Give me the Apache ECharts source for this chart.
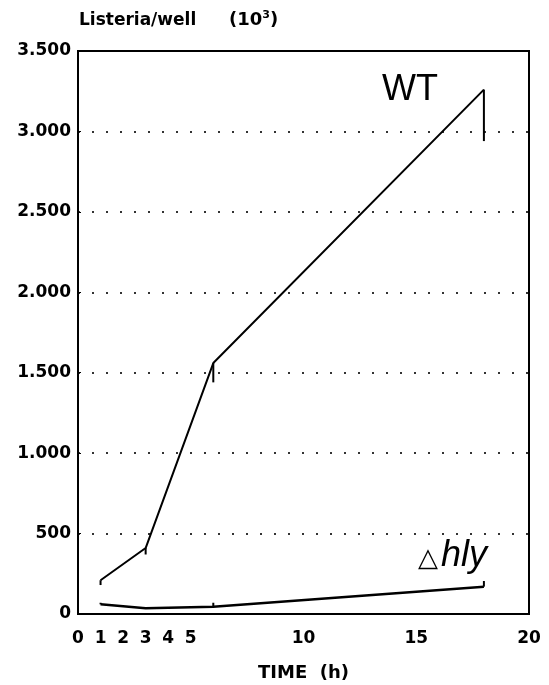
<!DOCTYPE html>
<html>
<head>
<meta charset="utf-8">
<script src="https://cdn.jsdelivr.net/npm/echarts@6/dist/echarts.min.js"></script>
<style>
  html, body { margin: 0; padding: 0; background: #fff; }
  #chart { width: 549px; height: 685px; }
</style>
</head>
<body>
<div id="chart"></div>
<script>
const hours = [1, 3, 6, 18];
const wtValues = [210, 410, 1560, 3260];
const wtErrors = [-30, -40, -120, -320];
const hlyValues = [60, 35, 45, 170];
const hlyErrors = [10, 0, 25, 35];
const xTickLabels = [0, 1, 2, 3, 4, 5, 10, 15, 20];

const labelFont = '"DejaVu Sans", sans-serif';
const chart = echarts.init(document.getElementById('chart'));

function fmtThousands(v) {
  return String(v).replace(/\B(?=(\d{3})+(?!\d))/g, '.');
}

function errorBars(values, errors) {
  return {
    type: 'custom',
    data: hours.map((h, i) => [h, values[i], errors[i]]),
    renderItem(params, api) {
      const err = api.value(2);
      if (!err) return null;
      const a = api.coord([api.value(0), api.value(1)]);
      const b = api.coord([api.value(0), api.value(1) + err]);
      return {
        type: 'line',
        shape: { x1: a[0], y1: a[1], x2: b[0], y2: b[1] },
        style: { stroke: '#000', lineWidth: 2 }
      };
    },
    z: 3
  };
}

chart.setOption({
  animation: false,
  backgroundColor: '#fff',
  grid: {
    left: 78, right: 20, top: 51, bottom: 71,
    outerBoundsMode: 'none',
    show: true, borderColor: '#000', borderWidth: 2
  },
  xAxis: {
    type: 'value',
    min: 0, max: 20, interval: 1,
    name: 'TIME  (h)',
    nameLocation: 'middle',
    nameGap: 50,
    nameTextStyle: { color: '#000', fontFamily: labelFont, fontWeight: 'bold', fontSize: 18 },
    axisLine: { lineStyle: { color: '#000', width: 2 } },
    axisTick: { show: false },
    splitLine: { show: false },
    axisLabel: {
      color: '#000', fontFamily: labelFont, fontWeight: 'bold', fontSize: 17, margin: 16,
      formatter: v => (xTickLabels.includes(v) ? String(v) : '')
    }
  },
  yAxis: {
    type: 'value',
    min: 0, max: 3500, interval: 500,
    axisLine: { show: true, lineStyle: { color: '#000', width: 2 } },
    axisTick: { show: true, inside: true, length: 3, lineStyle: { color: '#000' } },
    splitLine: {
      show: true, showMinLine: false, showMaxLine: false,
      lineStyle: { color: '#333', type: [2, 12], width: 2 }
    },
    axisLabel: {
      color: '#000', fontFamily: labelFont, fontWeight: 'bold', fontSize: 17, margin: 7,
      formatter: v => fmtThousands(v)
    }
  },
  series: [
    {
      name: 'WT',
      type: 'line',
      data: hours.map((h, i) => [h, wtValues[i]]),
      symbol: 'none',
      lineStyle: { color: '#000', width: 2 },
      z: 4
    },
    {
      name: 'hly',
      type: 'line',
      data: hours.map((h, i) => [h, hlyValues[i]]),
      symbol: 'none',
      lineStyle: { color: '#000', width: 2.5 },
      z: 4
    },
    errorBars(wtValues, wtErrors),
    errorBars(hlyValues, hlyErrors)
  ],
  graphic: [
    {
      type: 'text', left: 79, top: 12,
      style: { text: 'Listeria/well', fill: '#000', font: 'bold 17px "DejaVu Sans", sans-serif' }
    },
    {
      type: 'text', left: 229, top: 10,
      style: {
        text: '{a|(10}{s|3}{a|)}',
        rich: {
          a: { fill: '#000', font: 'bold 18px "DejaVu Sans", sans-serif', verticalAlign: 'bottom' },
          s: { fill: '#000', font: 'bold 11px "DejaVu Sans", sans-serif', verticalAlign: 'top', padding: [0, 0, 8, 0] }
        }
      }
    },
    {
      type: 'text', left: 382, top: 72,
      style: { text: 'WT', fill: '#000', font: '36px "Liberation Sans", sans-serif' }
    },
    {
      type: 'text', left: 418, top: 538,
      style: {
        text: '{t|△}{h|hly}',
        rich: {
          t: { fill: '#000', font: '26px "DejaVu Sans", sans-serif', verticalAlign: 'bottom', padding: [0, 3, 2, 0] },
          h: { fill: '#000', font: 'italic 36px "Liberation Sans", sans-serif', verticalAlign: 'bottom' }
        }
      }
    }
  ]
});
</script>
</body>
</html>
